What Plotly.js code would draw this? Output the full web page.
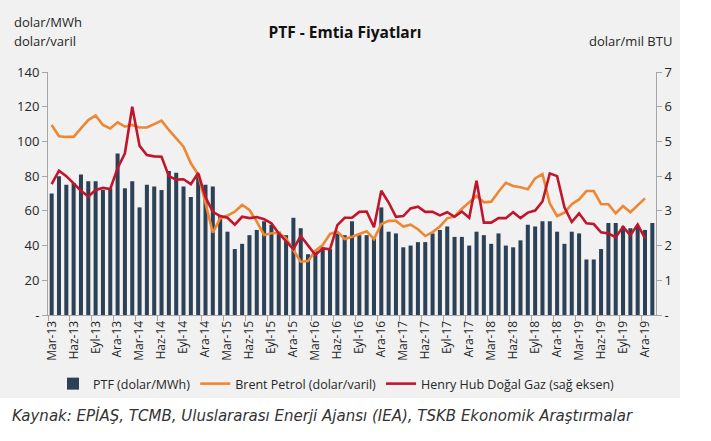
<!DOCTYPE html>
<html>
<head>
<meta charset="utf-8">
<script src="https://cdn.plot.ly/plotly-3.0.1.min.js"></script>
<style>
  html, body { margin: 0; padding: 0; background: #ffffff; }
  #chart { width: 711px; height: 441px; }
</style>
</head>
<body>
<div id="chart"></div>
<script>
// Month labels (Turkish abbreviations), Mar-13 .. Oca-20
const monthNames = ['Oca','Şub','Mar','Nis','May','Haz','Tem','Ağu','Eyl','Eki','Kas','Ara'];
const categories = [];
for (let y = 2013; y <= 2020; y++) {
  for (let m = 0; m < 12; m++) {
    if (y === 2013 && m < 2) continue;
    if (y === 2020 && m > 0) continue;
    categories.push(monthNames[m] + '-' + String(y).slice(2));
  }
}

// PTF (dolar/MWh) - left axis, Mar-13 .. Oca-20
const ptf = [70, 80, 75, 76, 81, 77, 77, 72, 73, 93,
             73, 77, 62, 75, 74, 72, 83, 82, 74, 68,
             81, 75, 74, 57, 48, 38, 41, 46, 49, 54,
             52, 48, 46, 56, 50, 35, 37, 39, 38, 47,
             46, 54, 46, 46, 44, 62, 48, 47, 39, 40,
             42, 42, 47, 49, 51, 45, 45, 40, 48, 46,
             41, 47, 40, 39, 43, 52, 51, 54, 54, 48,
             41, 48, 47, 32, 32, 38, 53, 53, 51, 50,
             51, 49, 53];

// Brent Petrol (dolar/varil) - left axis, Mar-13 .. Ara-19
const brent = [109.5, 103, 102.6, 102.6, 107.5, 112.3, 115, 109.5, 107.5, 111,
               108.5, 109.5, 108, 108, 110, 112, 106.6, 101.8, 97, 87.4,
               81, 64.5, 47.4, 55.7, 57.3, 59.5, 63.4, 60.5, 53.8, 46.1,
               47.1, 47.4, 44.2, 37.4, 30.7, 31.1, 37, 40.3, 46.7, 48,
               43.8, 45.1, 46.7, 48.3, 43.7, 52.4, 54.2, 54.2, 51, 52,
               49.4, 45.5, 47.8, 51, 55.7, 56.8, 61.2, 64.8, 68.6, 64.9,
               65.3, 71, 76.2, 74.3, 73.6, 72.4, 78.7, 81.2, 64.3, 57,
               58.9, 63.8, 66.6, 71.4, 71.4, 63.9, 63.8, 58.6, 62.8, 59.2,
               63, 67.2];

// Henry Hub Doğal Gaz (dolar/mil BTU) - right axis, Mar-13 .. Ara-19
const henryHub = [3.77, 4.16, 4.0, 3.79, 3.58, 3.41, 3.6, 3.66, 3.63, 4.23,
                  4.66, 6.0, 4.87, 4.61, 4.57, 4.56, 4.0, 3.9, 3.91, 3.77,
                  4.09, 3.4, 2.97, 2.85, 2.8, 2.6, 2.83, 2.79, 2.82, 2.76,
                  2.64, 2.35, 2.11, 1.9, 2.28, 2.02, 1.73, 1.92, 1.89, 2.59,
                  2.8, 2.8, 2.97, 2.98, 2.53, 3.58, 3.24, 2.83, 2.85, 3.07,
                  3.12, 2.97, 2.97, 2.87, 2.96, 2.83, 2.98, 2.8, 3.87, 2.66,
                  2.66, 2.79, 2.79, 2.96, 2.79, 2.95, 3.01, 3.27, 4.08, 4.0,
                  3.1, 2.68, 2.93, 2.64, 2.62, 2.38, 2.35, 2.24, 2.54, 2.3,
                  2.61, 2.21];

const leftTicks = [0, 20, 40, 60, 80, 100, 120, 140];
const leftTickText = ['-', '20', '40', '60', '80', '100', '120', '140'];
const rightTicks = [0, 1, 2, 3, 4, 5, 6, 7];
const rightTickText = ['-', '1', '2', '3', '4', '5', '6', '7'];

const seriesNames = ['PTF (dolar/MWh)', 'Brent Petrol (dolar/varil)', 'Henry Hub Doğal Gaz (sağ eksen)'];

const FONT = 'Open Sans, Noto Sans, sans-serif';
const W = 711, H = 441;
const L = 48, R = 55, T = 72, B = 126;
const plotW = W - L - R, plotH = H - T - B;
const px2x = x => (x - L) / plotW;
const px2y = y => (H - B - y) / plotH;

const traces = [
  {
    type: 'bar', name: seriesNames[0], x: categories, y: ptf,
    marker: { color: '#2d4156' }, yaxis: 'y'
  },
  {
    type: 'scatter', mode: 'lines', name: seriesNames[1],
    x: categories.slice(0, brent.length), y: brent,
    line: { color: '#ee8733', width: 2.6 }, yaxis: 'y'
  },
  {
    type: 'scatter', mode: 'lines', name: seriesNames[2],
    x: categories.slice(0, henryHub.length), y: henryHub,
    line: { color: '#c0152d', width: 2.6 }, yaxis: 'y2'
  }
];

const axisCommon = {
  showgrid: false, zeroline: false, showline: true,
  linecolor: '#a6a6a6', linewidth: 1,
  ticks: 'outside', ticklen: 5, tickcolor: '#a6a6a6',
  tickfont: { family: FONT, size: 13, color: '#262626' }
};

const layout = {
  width: W, height: H,
  margin: { l: L, r: R, t: T, b: B, pad: 0 },
  paper_bgcolor: '#ffffff',
  plot_bgcolor: 'rgba(0,0,0,0)',
  bargap: 0.45,
  showlegend: true,
  title: {
    text: '<b>PTF - Emtia Fiyatları</b>',
    x: 345 / W, xref: 'container', xanchor: 'center',
    y: 1 - 33 / H, yref: 'container', yanchor: 'middle',
    font: { family: FONT, size: 15.5, color: '#111111' }
  },
  xaxis: Object.assign({}, axisCommon, {
    type: 'category', tickmode: 'linear', tick0: 0, dtick: 3,
    tickson: 'boundaries', tickangle: -90,
    range: [-0.5, categories.length - 0.5],
    tickfont: { family: FONT, size: 12, color: '#262626' }
  }),
  yaxis: Object.assign({}, axisCommon, {
    range: [0, 140], tickmode: 'array', tickvals: leftTicks, ticktext: leftTickText
  }),
  yaxis2: Object.assign({}, axisCommon, {
    overlaying: 'y', side: 'right',
    range: [0, 7], tickmode: 'array', tickvals: rightTicks, ticktext: rightTickText
  }),
  legend: {
    orientation: 'h', x: px2x(53), xanchor: 'left',
    y: px2y(369), yanchor: 'top',
    bgcolor: 'rgba(0,0,0,0)',
    font: { family: FONT, size: 12.5, color: '#262626' },
    traceorder: 'normal'
  },
  shapes: [
    {
      type: 'rect', xref: 'paper', yref: 'paper', layer: 'below',
      x0: px2x(0), x1: px2x(680), y0: px2y(398), y1: px2y(0),
      fillcolor: '#f1f1f1', line: { width: 0 }
    }
  ],
  annotations: [
    {
      text: 'dolar/MWh', xref: 'paper', yref: 'paper',
      x: px2x(12), y: px2y(22), xanchor: 'left', yanchor: 'middle', showarrow: false,
      font: { family: FONT, size: 13, color: '#262626' }
    },
    {
      text: 'dolar/varil', xref: 'paper', yref: 'paper',
      x: px2x(12), y: px2y(41), xanchor: 'left', yanchor: 'middle', showarrow: false,
      font: { family: FONT, size: 13, color: '#262626' }
    },
    {
      text: 'dolar/mil BTU', xref: 'paper', yref: 'paper',
      x: px2x(674), y: px2y(41), xanchor: 'right', yanchor: 'middle', showarrow: false,
      font: { family: FONT, size: 13, color: '#262626' }
    },
    {
      text: 'Kaynak: EPİAŞ, TCMB, Uluslararası Enerji Ajansı (IEA), TSKB Ekonomik Araştırmalar',
      xref: 'paper', yref: 'paper',
      x: px2x(10), y: px2y(415), xanchor: 'left', yanchor: 'middle', showarrow: false,
      font: { family: 'DejaVu Sans, Verdana, sans-serif', size: 15, color: '#333333', style: 'italic' }
    }
  ]
};

Plotly.newPlot('chart', traces, layout, { displayModeBar: false, staticPlot: true });
</script>
</body>
</html>
